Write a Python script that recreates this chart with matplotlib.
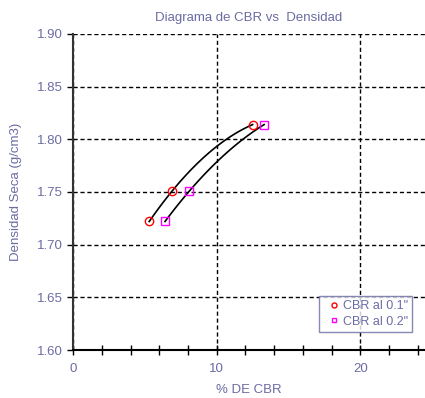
import matplotlib
matplotlib.use('Agg')
import matplotlib.pyplot as plt
import numpy as np
from matplotlib.ticker import MultipleLocator

plt.rcParams['font.family'] = ['Liberation Sans', 'DejaVu Sans']

# datos
cbr_01 = [5.3, 6.9, 12.5]
dens_01 = [1.722, 1.751, 1.814]
cbr_02 = [6.4, 8.1, 13.3]
dens_02 = [1.722, 1.751, 1.814]

texto = '#6b6ba3'

fig = plt.figure(figsize=(4.25, 3.98), dpi=100)
ax = fig.add_axes([0.172, 0.1206, 0.828, 0.794])

# curvas de ajuste (polinomio de grado 2)
for x, y in [(cbr_01, dens_01), (cbr_02, dens_02)]:
    c = np.polyfit(x, y, 2)
    xs = np.linspace(min(x), max(x), 100)
    ax.plot(xs, np.polyval(c, xs), color='black', lw=1.2, zorder=3)

ax.plot(cbr_01, dens_01, 'o', mfc='none', mec='red', ms=6, mew=1,
        label='CBR al 0.1"', zorder=4)
ax.plot(cbr_02, dens_02, 's', mfc='none', mec='magenta', ms=6, mew=1,
        label='CBR al 0.2"', zorder=4)

ax.set_xlim(0, 24.5)
ax.set_ylim(1.60, 1.90)
ax.xaxis.set_major_locator(MultipleLocator(10))
ax.xaxis.set_minor_locator(MultipleLocator(2))
ax.yaxis.set_major_locator(MultipleLocator(0.05))
ax.yaxis.set_major_formatter(matplotlib.ticker.FormatStrFormatter('%.2f'))

ax.grid(True, which='major', color='black', linestyle=(0, (3, 2)), lw=1)
ax.spines['top'].set_visible(False)
ax.spines['right'].set_visible(False)
ax.spines['left'].set_color('#333333')
ax.spines['left'].set_linewidth(1.5)
ax.spines['bottom'].set_linewidth(1.5)

ax.tick_params(axis='x', which='both', direction='inout', length=7, width=1,
               colors='black', labelcolor=texto, labelsize=9.5, pad=6)
ax.tick_params(axis='y', direction='out', length=4, width=1,
               colors='black', labelcolor=texto, labelsize=9.5)

ax.set_xlabel('% DE CBR', color=texto, fontsize=9.5, labelpad=6)
ax.set_ylabel('Densidad Seca (g/cm3)', color=texto, fontsize=9.5, labelpad=11)
ax.set_title('Diagrama de CBR vs  Densidad', color=texto, fontsize=9.5, pad=9)

leg = ax.legend(loc='lower right', bbox_to_anchor=(0.975, 0.045), fontsize=9,
                frameon=True, fancybox=False, handlelength=1.8,
                handletextpad=-0.2, borderpad=0.35, labelspacing=0.3,
                borderaxespad=0.3, markerscale=0.6)
leg.get_frame().set_edgecolor(texto)
leg.get_frame().set_linewidth(1)
for t in leg.get_texts():
    t.set_color(texto)

plt.savefig('out.png', dpi=100)
